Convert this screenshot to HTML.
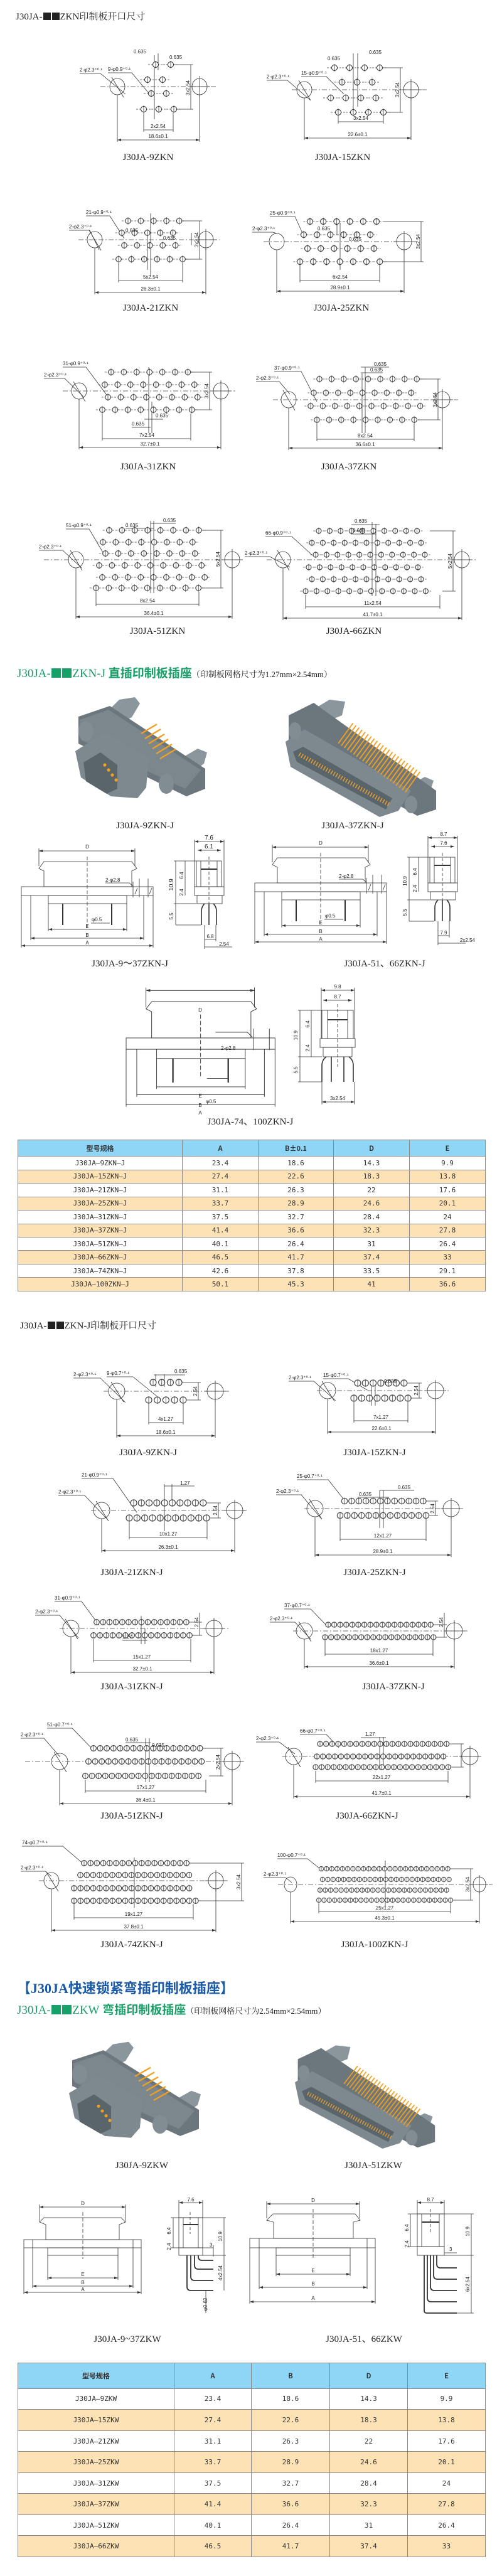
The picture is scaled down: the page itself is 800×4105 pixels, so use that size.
<!DOCTYPE html>
<html><head><meta charset="utf-8">
<style>
html,body{margin:0;padding:0;background:#fff}
#pg{position:relative;width:800px;height:4105px;overflow:hidden;background:#fff}
svg{position:absolute;left:0;top:0}
.h{position:absolute;white-space:nowrap;font-family:"Liberation Serif","Noto Serif CJK SC",serif;color:#222}
.g{color:#17a068;font-size:19px;font-family:"Liberation Serif","Noto Sans CJK SC",sans-serif;font-weight:bold}
.g b{font-weight:normal;font-family:"Liberation Serif",serif}
.sm{font-size:13px;color:#222;font-weight:normal;font-family:"Liberation Serif","Noto Serif CJK SC",serif}
.sq{display:inline-block;width:.8em;height:.8em;background:currentColor;margin:0 1px;vertical-align:-1px}
table{position:absolute;left:28px;width:745px;border-collapse:collapse;font-family:"DejaVu Sans Mono","Noto Sans CJK SC",monospace;font-size:11px;color:#333;table-layout:fixed}
td{border:1px solid #888;text-align:center;padding:0;letter-spacing:0}
tr.hd td{background:#8fd6f6;font-family:"Noto Sans CJK SC",sans-serif;font-weight:bold}
tr.o td{background:#fde2b6}
.l{stroke:#333;stroke-width:.8;fill:none}
.c{stroke:#444;stroke-width:.7;stroke-dasharray:8 3 2 3;fill:none}
.t{font-family:"Liberation Sans",sans-serif;font-size:8px;fill:#222}
.cap{font-family:"Liberation Serif",serif;font-size:15px;fill:#222;text-anchor:middle}
.m{text-anchor:middle}
</style></head><body><div id="pg">

<div class="h" style="left:25px;top:15px;font-size:15px">J30JA-<span class="sq"></span><span class="sq"></span>ZKN印制板开口尺寸</div>
<div class="h g" style="left:27px;top:1058px"><b>J30JA-</b><span class="sq"></span><span class="sq"></span><b>ZKN-J</b> 直插印制板插座<span class="sm">（印制板网格尺寸为1.27mm×2.54mm）</span></div>
<div class="h" style="left:32px;top:2101px;font-size:15px">J30JA-<span class="sq"></span><span class="sq"></span>ZKN-J印制板开口尺寸</div>
<div class="h" style="left:27px;top:3151px;font-size:22px;font-weight:bold;color:#1b5aa6;font-family:'Liberation Serif','Noto Sans CJK SC',sans-serif">【J30JA快速锁紧弯插印制板插座】</div>
<div class="h g" style="left:27px;top:3188px"><b>J30JA-</b><span class="sq"></span><span class="sq"></span><b>ZKW</b> 弯插印制板插座<span class="sm">（印制板网格尺寸为2.54mm×2.54mm）</span></div>

<table style="top:1816px;height:242px">
<colgroup><col style="width:262px"><col style="width:121px"><col style="width:120px"><col style="width:121px"><col style="width:121px"></colgroup>
<tr class="hd"><td>型号规格</td><td>A</td><td>B±0.1</td><td>D</td><td>E</td></tr>
<tr><td>J30JA—9ZKN—J</td><td>23.4</td><td>18.6</td><td>14.3</td><td>9.9</td></tr>
<tr class="o"><td>J30JA—15ZKN—J</td><td>27.4</td><td>22.6</td><td>18.3</td><td>13.8</td></tr>
<tr><td>J30JA—21ZKN—J</td><td>31.1</td><td>26.3</td><td>22</td><td>17.6</td></tr>
<tr class="o"><td>J30JA—25ZKN—J</td><td>33.7</td><td>28.9</td><td>24.6</td><td>20.1</td></tr>
<tr><td>J30JA—31ZKN—J</td><td>37.5</td><td>32.7</td><td>28.4</td><td>24</td></tr>
<tr class="o"><td>J30JA—37ZKN—J</td><td>41.4</td><td>36.6</td><td>32.3</td><td>27.8</td></tr>
<tr><td>J30JA—51ZKN—J</td><td>40.1</td><td>26.4</td><td>31</td><td>26.4</td></tr>
<tr class="o"><td>J30JA—66ZKN—J</td><td>46.5</td><td>41.7</td><td>37.4</td><td>33</td></tr>
<tr><td>J30JA—74ZKN—J</td><td>42.6</td><td>37.8</td><td>33.5</td><td>29.1</td></tr>
<tr class="o"><td>J30JA—100ZKN—J</td><td>50.1</td><td>45.3</td><td>41</td><td>36.6</td></tr>
</table>

<table style="top:3765px;height:310px">
<colgroup><col style="width:249px"><col style="width:123px"><col style="width:125px"><col style="width:124px"><col style="width:124px"></colgroup>
<tr class="hd"><td>型号规格</td><td>A</td><td>B</td><td>D</td><td>E</td></tr>
<tr><td>J30JA—9ZKW</td><td>23.4</td><td>18.6</td><td>14.3</td><td>9.9</td></tr>
<tr class="o"><td>J30JA—15ZKW</td><td>27.4</td><td>22.6</td><td>18.3</td><td>13.8</td></tr>
<tr><td>J30JA—21ZKW</td><td>31.1</td><td>26.3</td><td>22</td><td>17.6</td></tr>
<tr class="o"><td>J30JA—25ZKW</td><td>33.7</td><td>28.9</td><td>24.6</td><td>20.1</td></tr>
<tr><td>J30JA—31ZKW</td><td>37.5</td><td>32.7</td><td>28.4</td><td>24</td></tr>
<tr class="o"><td>J30JA—37ZKW</td><td>41.4</td><td>36.6</td><td>32.3</td><td>27.8</td></tr>
<tr><td>J30JA—51ZKW</td><td>40.1</td><td>26.4</td><td>31</td><td>26.4</td></tr>
<tr class="o"><td>J30JA—66ZKW</td><td>46.5</td><td>41.7</td><td>37.4</td><td>33</td></tr>
</table>

<svg width="800" height="4105" viewBox="0 0 800 4105">
<defs>
<pattern id="p24" width="24" height="24" patternUnits="userSpaceOnUse"><line x1="0" y1="12" x2="24" y2="12" stroke="#444" stroke-width=".7" stroke-dasharray="3 2"/><circle cx="12" cy="12" r="4.5" fill="#fff" stroke="#222" stroke-width="1"/><line x1="12" y1="6" x2="12" y2="18" stroke="#222" stroke-width=".7"/></pattern>
<pattern id="p21" width="21.2" height="21.2" patternUnits="userSpaceOnUse"><line x1="0" y1="10.6" x2="21.2" y2="10.6" stroke="#444" stroke-width=".7" stroke-dasharray="3 2"/><circle cx="10.6" cy="10.6" r="4.5" fill="#fff" stroke="#222" stroke-width="1"/><line x1="10.6" y1="4.6" x2="10.6" y2="16.6" stroke="#222" stroke-width=".7"/></pattern>
<pattern id="p20" width="20.4" height="20.4" patternUnits="userSpaceOnUse"><line x1="0" y1="10.2" x2="20.4" y2="10.2" stroke="#444" stroke-width=".7" stroke-dasharray="3 2"/><circle cx="10.2" cy="10.2" r="4.3" fill="#fff" stroke="#222" stroke-width="1"/><line x1="10.2" y1="4.4" x2="10.2" y2="16" stroke="#222" stroke-width=".7"/></pattern>
<pattern id="p19" width="19.4" height="19.4" patternUnits="userSpaceOnUse"><line x1="0" y1="9.7" x2="19.4" y2="9.7" stroke="#444" stroke-width=".7" stroke-dasharray="3 2"/><circle cx="9.7" cy="9.7" r="4.2" fill="#fff" stroke="#222" stroke-width="1"/><line x1="9.7" y1="4" x2="9.7" y2="15.4" stroke="#222" stroke-width=".7"/></pattern>
<pattern id="p17" width="17.4" height="17.4" patternUnits="userSpaceOnUse"><line x1="0" y1="8.7" x2="17.4" y2="8.7" stroke="#444" stroke-width=".7" stroke-dasharray="3 2"/><circle cx="8.7" cy="8.7" r="4" fill="#fff" stroke="#222" stroke-width="1"/><line x1="8.7" y1="3.4" x2="8.7" y2="14" stroke="#222" stroke-width=".7"/></pattern>
<pattern id="q137" width="13.7" height="13.7" patternUnits="userSpaceOnUse"><circle cx="6.85" cy="6.85" r="5" fill="#fff" stroke="#222" stroke-width="1"/><line x1="6.85" y1="1" x2="6.85" y2="12.7" stroke="#222" stroke-width=".7"/></pattern>
<pattern id="q123" width="12.3" height="12.3" patternUnits="userSpaceOnUse"><circle cx="6.15" cy="6.15" r="5" fill="#fff" stroke="#222" stroke-width="1"/><line x1="6.15" y1="0.5" x2="6.15" y2="11.8" stroke="#222" stroke-width=".7"/></pattern>
<pattern id="q114" width="11.4" height="11.4" patternUnits="userSpaceOnUse"><circle cx="5.7" cy="5.7" r="4.7" fill="#fff" stroke="#222" stroke-width="1"/><line x1="5.7" y1="0.5" x2="5.7" y2="10.9" stroke="#222" stroke-width=".7"/></pattern>
<pattern id="q106" width="10.6" height="10.6" patternUnits="userSpaceOnUse"><circle cx="5.3" cy="5.3" r="4.4" fill="#fff" stroke="#222" stroke-width="1"/><line x1="5.3" y1="0.5" x2="5.3" y2="10.1" stroke="#222" stroke-width=".7"/></pattern>
<pattern id="q102" width="10.2" height="10.2" patternUnits="userSpaceOnUse"><circle cx="5.1" cy="5.1" r="4.3" fill="#fff" stroke="#222" stroke-width="1"/><line x1="5.1" y1="0.4" x2="5.1" y2="9.8" stroke="#222" stroke-width=".7"/></pattern>
<pattern id="q96" width="9.6" height="9.6" patternUnits="userSpaceOnUse"><circle cx="4.8" cy="4.8" r="4.1" fill="#fff" stroke="#222" stroke-width="1"/><line x1="4.8" y1="0.3" x2="4.8" y2="9.3" stroke="#222" stroke-width=".7"/></pattern>
<pattern id="q84" width="8.4" height="8.4" patternUnits="userSpaceOnUse"><circle cx="4.2" cy="4.2" r="3.6" fill="#fff" stroke="#222" stroke-width=".9"/><line x1="4.2" y1="0.3" x2="4.2" y2="8.1" stroke="#222" stroke-width=".6"/></pattern>
<marker id="a" markerWidth="6" markerHeight="4" refX="6" refY="2" orient="auto-start-reverse" markerUnits="userSpaceOnUse"><path d="M0,0 L6,2 L0,4z" fill="#333"/></marker>

<!-- 3D connector small (9 pin) local 0..215 x 0..170 -->
<g id="c9">
<polygon points="55,28 75,8 100,4 108,14 95,36 70,48" fill="#8a959c"/>
<polygon points="176,100 200,86 215,92 210,110 190,124" fill="#8a959c"/>
<polygon points="10,35 60,18 212,118 212,150 182,162 10,78" fill="#6c767d"/>
<polygon points="12,40 58,24 205,120 180,150 14,72" fill="#7b868d"/>
<polygon points="5,90 52,60 122,100 118,148 104,165 62,162 14,132" fill="#7d888f"/>
<polygon points="18,108 45,92 72,112 72,150 55,158 22,138" fill="#5a646b"/>
<circle cx="58" cy="120" r="2.6" fill="#f0a020"/><circle cx="64" cy="128" r="2.6" fill="#f0a020"/><circle cx="70" cy="136" r="2.6" fill="#f0a020"/><circle cx="52" cy="112" r="2.6" fill="#f0a020"/>
<ellipse cx="22" cy="58" rx="12" ry="16" fill="#818c93"/>
<ellipse cx="150" cy="142" rx="12" ry="16" fill="#818c93"/>
<line x1="120" y1="100" x2="220" y2="0" stroke="#f0a020" stroke-width="34" stroke-dasharray="2.5 5" opacity="0" />
<g stroke="#f0a020" stroke-width="2.4"><line x1="110" y1="62" x2="135" y2="47"/><line x1="116" y1="70" x2="141" y2="55"/><line x1="122" y1="78" x2="147" y2="63"/><line x1="128" y1="86" x2="153" y2="71"/><line x1="134" y1="94" x2="159" y2="79"/><line x1="140" y1="102" x2="165" y2="87"/></g>
</g>
<!-- large connector -->
<g id="c37">
<polygon points="45,20 70,5 95,8 90,30 65,40" fill="#8a959c"/>
<polygon points="200,140 222,128 236,134 230,152 210,160" fill="#8a959c"/>
<polygon points="5,30 45,10 240,150 240,180 210,190 5,75" fill="#6c767d"/>
<polygon points="0,72 30,52 200,150 180,182 150,192 8,112" fill="#7d888f"/>
<polygon points="12,88 28,80 170,162 160,180 18,104" fill="#5a646b"/>
<line x1="22" y1="92" x2="165" y2="172" stroke="#e8a030" stroke-width="7" stroke-dasharray="1.5 3"/>
<ellipse cx="15" cy="55" rx="10" ry="14" fill="#818c93"/>
<ellipse cx="200" cy="172" rx="10" ry="14" fill="#818c93"/>
<line x1="95" y1="58" x2="205" y2="138" stroke="#f0a020" stroke-width="40" stroke-dasharray="2 4" opacity=".95"/>
</g>
</defs>

<!-- ===== ZKN cutouts ===== -->
<g class="l">
<!-- 9ZKN -->
<ellipse cx="187" cy="138" rx="12" ry="13"/><line x1="178" y1="123" x2="197" y2="155"/>
<ellipse cx="318" cy="138" rx="12" ry="13"/><line x1="301" y1="138" x2="335" y2="138"/><line x1="318" y1="121" x2="318" y2="155"/>
<line x1="187" y1="151" x2="187" y2="226"/><line x1="318" y1="151" x2="318" y2="226"/>
<line x1="187" y1="223" x2="318" y2="223" marker-start="url(#a)" marker-end="url(#a)"/>
<line x1="229" y1="180" x2="229" y2="210"/><line x1="276" y1="180" x2="276" y2="210"/><line x1="229" y1="207" x2="276" y2="207"/>
<line x1="275" y1="103" x2="308" y2="103"/><line x1="281" y1="174" x2="308" y2="174"/><line x1="304" y1="103" x2="304" y2="174"/>
<polyline points="127,117 160,117 200,150"/><polyline points="172,116 210,116 240,152"/>
<line x1="246" y1="88" x2="246" y2="190"/><line x1="252" y1="85" x2="252" y2="112"/>
<!-- 15ZKN -->
<ellipse cx="485" cy="143" rx="12" ry="13"/><line x1="476" y1="128" x2="495" y2="160"/>
<ellipse cx="655" cy="143" rx="12" ry="13"/><line x1="638" y1="143" x2="672" y2="143"/><line x1="655" y1="126" x2="655" y2="160"/>
<line x1="485" y1="156" x2="485" y2="223"/><line x1="655" y1="156" x2="655" y2="223"/>
<line x1="485" y1="220" x2="655" y2="220" marker-start="url(#a)" marker-end="url(#a)"/>
<line x1="539" y1="185" x2="539" y2="197"/><line x1="611" y1="185" x2="611" y2="197"/><line x1="539" y1="194" x2="611" y2="194"/>
<line x1="610" y1="108" x2="642" y2="108"/><line x1="616" y1="179" x2="642" y2="179"/><line x1="638" y1="108" x2="638" y2="179"/>
<polyline points="425,128 458,128 495,160"/><polyline points="480,122 520,122 548,150"/>
<line x1="563" y1="85" x2="563" y2="185"/><line x1="570" y1="85" x2="570" y2="170"/>
<!-- 21ZKN -->
<ellipse cx="151" cy="382" rx="12" ry="13"/><line x1="142" y1="367" x2="161" y2="399"/>
<ellipse cx="328" cy="382" rx="12" ry="13"/><line x1="311" y1="382" x2="345" y2="382"/><line x1="328" y1="365" x2="328" y2="399"/>
<line x1="151" y1="395" x2="151" y2="469"/><line x1="328" y1="395" x2="328" y2="469"/>
<line x1="151" y1="466" x2="328" y2="466" marker-start="url(#a)" marker-end="url(#a)"/>
<line x1="189" y1="419" x2="189" y2="450"/><line x1="291" y1="419" x2="291" y2="450"/><line x1="189" y1="447" x2="291" y2="447"/>
<line x1="291" y1="352" x2="322" y2="352"/><line x1="296" y1="413" x2="322" y2="413"/><line x1="318" y1="352" x2="318" y2="413"/><line x1="305" y1="371" x2="305" y2="391"/>
<polyline points="110,367 143,367 158,398"/><polyline points="137,344 175,344 198,380"/>
<line x1="240" y1="340" x2="240" y2="440"/><line x1="235" y1="370" x2="235" y2="430"/>
<!-- 25ZKN -->
<ellipse cx="441" cy="385" rx="12" ry="13"/>
<ellipse cx="644" cy="385" rx="12" ry="13"/><line x1="627" y1="385" x2="661" y2="385"/><line x1="644" y1="368" x2="644" y2="402"/>
<line x1="441" y1="398" x2="441" y2="467"/><line x1="644" y1="398" x2="644" y2="467"/>
<line x1="441" y1="464" x2="644" y2="464" marker-start="url(#a)" marker-end="url(#a)"/>
<line x1="478" y1="423" x2="478" y2="450"/><line x1="605" y1="423" x2="605" y2="450"/><line x1="478" y1="447" x2="605" y2="447"/>
<line x1="611" y1="353" x2="675" y2="353"/><line x1="611" y1="417" x2="675" y2="417"/><line x1="671" y1="353" x2="671" y2="417"/>
<polyline points="402,370 435,370 441,372"/><polyline points="430,345 470,345 485,378"/>
<line x1="542" y1="355" x2="542" y2="430"/><line x1="537" y1="355" x2="537" y2="375"/>
<!-- 31ZKN -->
<ellipse cx="126" cy="623" rx="12" ry="13"/><line x1="117" y1="608" x2="136" y2="640"/>
<ellipse cx="352" cy="623" rx="12" ry="13"/><line x1="335" y1="623" x2="369" y2="623"/><line x1="352" y1="606" x2="352" y2="640"/>
<line x1="126" y1="636" x2="126" y2="716"/><line x1="352" y1="636" x2="352" y2="716"/>
<line x1="126" y1="713" x2="352" y2="713" marker-start="url(#a)" marker-end="url(#a)"/>
<line x1="163" y1="659" x2="163" y2="702"/><line x1="304" y1="659" x2="304" y2="702"/><line x1="163" y1="699" x2="304" y2="699"/>
<line x1="304" y1="593" x2="338" y2="593"/><line x1="310" y1="653" x2="338" y2="653"/><line x1="334" y1="593" x2="334" y2="653"/>
<polyline points="70,603 103,603 133,632"/><polyline points="100,585 137,585 172,632"/>
<line x1="237" y1="585" x2="237" y2="690"/><line x1="242" y1="640" x2="242" y2="690"/><line x1="210" y1="681" x2="240" y2="681"/><line x1="230" y1="668" x2="260" y2="668"/>
<!-- 37ZKN -->
<ellipse cx="460" cy="637" rx="12" ry="13"/><line x1="451" y1="622" x2="470" y2="654"/>
<ellipse cx="705" cy="637" rx="12" ry="13"/><line x1="688" y1="637" x2="722" y2="637"/><line x1="705" y1="620" x2="705" y2="654"/>
<line x1="460" y1="650" x2="460" y2="717"/><line x1="705" y1="650" x2="705" y2="717"/>
<line x1="460" y1="714" x2="705" y2="714" marker-start="url(#a)" marker-end="url(#a)"/>
<line x1="505" y1="675" x2="505" y2="703"/><line x1="660" y1="675" x2="660" y2="703"/><line x1="505" y1="700" x2="660" y2="700"/>
<line x1="670" y1="604" x2="702" y2="604"/><line x1="666" y1="669" x2="702" y2="669"/><line x1="698" y1="604" x2="698" y2="669"/>
<polyline points="408,608 445,608 462,628"/><polyline points="437,592 480,592 505,640"/>
<line x1="582" y1="585" x2="582" y2="690"/><line x1="577" y1="595" x2="577" y2="690"/><line x1="575" y1="585" x2="620" y2="585"/><line x1="575" y1="594" x2="610" y2="594"/>
<!-- 51ZKN -->
<ellipse cx="121" cy="892" rx="12" ry="13"/><line x1="112" y1="877" x2="131" y2="909"/>
<ellipse cx="370" cy="892" rx="12" ry="13"/><line x1="353" y1="892" x2="387" y2="892"/><line x1="370" y1="875" x2="370" y2="909"/>
<line x1="121" y1="905" x2="121" y2="986"/><line x1="370" y1="905" x2="370" y2="986"/>
<line x1="121" y1="983" x2="370" y2="983" marker-start="url(#a)" marker-end="url(#a)"/>
<line x1="153" y1="943" x2="153" y2="966"/><line x1="317" y1="943" x2="317" y2="966"/><line x1="153" y1="963" x2="317" y2="963"/>
<line x1="323" y1="845" x2="356" y2="845"/><line x1="322" y1="937" x2="356" y2="937"/><line x1="352" y1="845" x2="352" y2="937"/>
<polyline points="62,877 100,877 130,905"/><polyline points="105,843 142,843 165,882"/>
<line x1="240" y1="830" x2="240" y2="945"/><line x1="245" y1="830" x2="245" y2="945"/><line x1="200" y1="842" x2="245" y2="842"/><line x1="240" y1="834" x2="280" y2="834"/>
<!-- 66ZKN -->
<ellipse cx="451" cy="892" rx="12" ry="13"/><line x1="442" y1="877" x2="461" y2="909"/>
<ellipse cx="736" cy="892" rx="12" ry="13"/><line x1="719" y1="892" x2="753" y2="892"/><line x1="736" y1="875" x2="736" y2="909"/>
<line x1="451" y1="905" x2="451" y2="988"/><line x1="736" y1="905" x2="736" y2="988"/>
<line x1="451" y1="985" x2="736" y2="985" marker-start="url(#a)" marker-end="url(#a)"/>
<line x1="487" y1="948" x2="487" y2="970"/><line x1="701" y1="948" x2="701" y2="970"/><line x1="487" y1="967" x2="701" y2="967"/>
<line x1="685" y1="846" x2="726" y2="846"/><line x1="705" y1="942" x2="726" y2="942"/><line x1="722" y1="846" x2="722" y2="942"/>
<polyline points="390,887 430,887 462,904"/><polyline points="423,855 465,855 498,885"/>
<line x1="593" y1="832" x2="593" y2="950"/><line x1="599" y1="835" x2="599" y2="950"/><line x1="560" y1="836" x2="605" y2="836"/><line x1="560" y1="851" x2="599" y2="851"/>
</g>
<g class="c">
<line x1="160" y1="138" x2="345" y2="138"/><line x1="465" y1="143" x2="680" y2="143"/>
<line x1="125" y1="382" x2="350" y2="382"/><line x1="420" y1="385" x2="665" y2="385"/>
<line x1="100" y1="623" x2="375" y2="623"/><line x1="435" y1="637" x2="730" y2="637"/>
<line x1="70" y1="892" x2="390" y2="892"/><line x1="425" y1="892" x2="760" y2="892"/>
</g>
<!-- pins ZKN -->
<rect transform="translate(236,91)" width="48" height="24" fill="url(#p24)"/>
<rect transform="translate(223,115)" width="48" height="24" fill="url(#p24)"/>
<rect transform="translate(229,137)" width="48" height="24" fill="url(#p24)"/>
<rect transform="translate(217,162)" width="72" height="24" fill="url(#p24)"/>
<rect transform="translate(521,96)" width="96" height="24" fill="url(#p24)"/>
<rect transform="translate(533,119)" width="72" height="24" fill="url(#p24)"/>
<rect transform="translate(515,144)" width="96" height="24" fill="url(#p24)"/>
<rect transform="translate(527,167)" width="96" height="24" fill="url(#p24)"/>
<rect transform="translate(193.8,341.8)" width="102" height="20.4" fill="url(#p20)"/>
<rect transform="translate(183.8,360.8)" width="102" height="20.4" fill="url(#p20)"/>
<rect transform="translate(187.8,380.8)" width="102" height="20.4" fill="url(#p20)"/>
<rect transform="translate(178.8,402.8)" width="122.4" height="20.4" fill="url(#p20)"/>
<rect transform="translate(483.4,342.4)" width="127.2" height="21.2" fill="url(#p21)"/>
<rect transform="translate(473.4,363.4)" width="127.2" height="21.2" fill="url(#p21)"/>
<rect transform="translate(479.4,385.4)" width="127.2" height="21.2" fill="url(#p21)"/>
<rect transform="translate(467.4,406.4)" width="148.4" height="21.2" fill="url(#p21)"/>
<rect transform="translate(166.8,582.8)" width="142.8" height="20.4" fill="url(#p20)"/>
<rect transform="translate(156.8,602.8)" width="163.2" height="20.4" fill="url(#p20)"/>
<rect transform="translate(161.8,622.8)" width="163.2" height="20.4" fill="url(#p20)"/>
<rect transform="translate(152.8,642.8)" width="163.2" height="20.4" fill="url(#p20)"/>
<rect transform="translate(499.3,594.3)" width="174.6" height="19.4" fill="url(#p19)"/>
<rect transform="translate(490.3,616.3)" width="174.6" height="19.4" fill="url(#p19)"/>
<rect transform="translate(485.3,637.3)" width="194" height="19.4" fill="url(#p19)"/>
<rect transform="translate(495.3,659.3)" width="174.6" height="19.4" fill="url(#p19)"/>
<rect transform="translate(163.8,834.8)" width="163.2" height="20.4" fill="url(#p20)"/>
<rect transform="translate(153.8,853.8)" width="163.2" height="20.4" fill="url(#p20)"/>
<rect transform="translate(157.8,871.8)" width="163.2" height="20.4" fill="url(#p20)"/>
<rect transform="translate(147.8,890.8)" width="183.6" height="20.4" fill="url(#p20)"/>
<rect transform="translate(152.8,909.8)" width="183.6" height="20.4" fill="url(#p20)"/>
<rect transform="translate(142.8,926.8)" width="183.6" height="20.4" fill="url(#p20)"/>
<rect transform="translate(499.3,837.3)" width="174" height="17.4" fill="url(#p17)"/>
<rect transform="translate(488.3,856.3)" width="191.4" height="17.4" fill="url(#p17)"/>
<rect transform="translate(494.3,875.3)" width="191.4" height="17.4" fill="url(#p17)"/>
<rect transform="translate(483.3,895.3)" width="191.4" height="17.4" fill="url(#p17)"/>
<rect transform="translate(488.3,914.3)" width="191.4" height="17.4" fill="url(#p17)"/>
<rect transform="translate(478.3,933.3)" width="208.8" height="17.4" fill="url(#p17)"/>
<!-- ZKN texts -->
<g class="t">
<text x="127" y="114">2-φ2.3⁺⁰·¹</text><text x="172" y="113">9-φ0.9⁺⁰·¹</text><text x="213" y="85">0.635</text><text x="270" y="94">0.635</text>
<text x="252" y="204" class="m">2x2.54</text><text x="252" y="220" class="m">18.6±0.1</text><text transform="translate(302,140) rotate(-90)" class="m">3x2.54</text>
<text x="425" y="125">2-φ2.3⁺⁰·¹</text><text x="480" y="119">15-φ0.9⁺⁰·¹</text><text x="522" y="96">0.635</text><text x="588" y="86">0.635</text>
<text x="575" y="191" class="m">3x2.54</text><text x="570" y="217" class="m">22.6±0.1</text><text transform="translate(636,143) rotate(-90)" class="m">3x2.54</text>
<text x="110" y="364">2-φ2.3⁺⁰·¹</text><text x="137" y="341">21-φ0.9⁺⁰·¹</text><text x="200" y="370">0.635</text><text x="260" y="382">0.635</text>
<text x="240" y="444" class="m">5x2.54</text><text x="240" y="463" class="m">26.3±0.1</text><text transform="translate(316,382) rotate(-90)" class="m">3x2.54</text>
<text x="402" y="367">2-φ2.3⁺⁰·¹</text><text x="430" y="342">25-φ0.9⁺⁰·¹</text><text x="506" y="367">0.635</text><text x="556" y="384">0.635</text>
<text x="542" y="444" class="m">6x2.54</text><text x="542" y="461" class="m">28.9±0.1</text><text transform="translate(669,385) rotate(-90)" class="m">3x2.54</text>
<text x="70" y="600">2-φ2.3⁺⁰·¹</text><text x="100" y="582">31-φ0.9⁺⁰·¹</text><text x="210" y="678">0.635</text><text x="248" y="665">0.635</text>
<text x="234" y="696" class="m">7x2.54</text><text x="239" y="710" class="m">32.7±0.1</text><text transform="translate(332,623) rotate(-90)" class="m">3x2.54</text>
<text x="408" y="605">2-φ2.3⁺⁰·¹</text><text x="437" y="589">37-φ0.9⁺⁰·¹</text><text x="596" y="583">0.635</text><text x="590" y="592">0.635</text>
<text x="582" y="697" class="m">8x2.54</text><text x="582" y="711" class="m">36.6±0.1</text><text transform="translate(696,637) rotate(-90)" class="m">3x2.54</text>
<text x="62" y="874">2-φ2.3⁺⁰·¹</text><text x="105" y="840">51-φ0.9⁺⁰·¹</text><text x="200" y="840">0.635</text><text x="260" y="832">0.635</text>
<text x="235" y="960" class="m">8x2.54</text><text x="245" y="980" class="m">36.4±0.1</text><text transform="translate(350,891) rotate(-90)" class="m">5x2.54</text>
<text x="390" y="884">2-φ2.3⁺⁰·¹</text><text x="423" y="852">66-φ0.9⁺⁰·¹</text><text x="565" y="833">0.635</text><text x="562" y="848">0.635</text>
<text x="594" y="964" class="m">11x2.54</text><text x="594" y="982" class="m">41.7±0.1</text><text transform="translate(720,894) rotate(-90)" class="m">5x2.54</text>
</g>
<g class="cap">
<text x="236" y="255">J30JA-9ZKN</text><text x="546" y="255">J30JA-15ZKN</text>
<text x="240" y="495">J30JA-21ZKN</text><text x="544" y="495">J30JA-25ZKN</text>
<text x="236" y="748">J30JA-31ZKN</text><text x="556" y="748">J30JA-37ZKN</text>
<text x="251" y="1010">J30JA-51ZKN</text><text x="564" y="1010">J30JA-66ZKN</text>
</g>

<!-- ===== ZKN-J connectors ===== -->
<use href="#c9" transform="translate(115,1107)"/>
<use href="#c37" transform="translate(455,1110)"/>
<g class="cap"><text x="231" y="1320">J30JA-9ZKN-J</text><text x="562" y="1320">J30JA-37ZKN-J</text></g>

<!-- front/side views ZKN-J -->
<g id="fj" class="l">
<line x1="62" y1="1356" x2="215" y2="1356" marker-start="url(#a)" marker-end="url(#a)"/>
<line x1="62" y1="1352" x2="62" y2="1380"/><line x1="215" y1="1352" x2="215" y2="1380"/>
<polygon points="70,1413 70,1388 62,1384 70,1373 210,1373 218,1384 210,1388 210,1413"/>
<rect x="34" y="1413" width="210" height="14"/>
<rect x="77" y="1427" width="125" height="13"/>
<line x1="100" y1="1440" x2="100" y2="1474" stroke-width="2"/><line x1="178" y1="1440" x2="178" y2="1474" stroke-width="2"/>
<line x1="139" y1="1365" x2="139" y2="1480" stroke-dasharray="6 3"/>
<line x1="212" y1="1405" x2="212" y2="1430"/><line x1="222" y1="1400" x2="222" y2="1430"/><line x1="236" y1="1400" x2="236" y2="1430"/>
<line x1="215" y1="1425" x2="219" y2="1415"/><line x1="238" y1="1425" x2="242" y2="1415"/>
<polyline points="168,1407 206,1407 212,1412"/>
<polyline points="145,1471 175,1471"/>
<line x1="77" y1="1440" x2="77" y2="1484"/><line x1="202" y1="1440" x2="202" y2="1484"/><line x1="77" y1="1481" x2="202" y2="1481" marker-start="url(#a)" marker-end="url(#a)"/>
<line x1="49" y1="1427" x2="49" y2="1498"/><line x1="229" y1="1427" x2="229" y2="1498"/><line x1="49" y1="1495" x2="229" y2="1495" marker-start="url(#a)" marker-end="url(#a)"/>
<line x1="34" y1="1427" x2="34" y2="1510"/><line x1="244" y1="1427" x2="244" y2="1510"/><line x1="34" y1="1507" x2="244" y2="1507" marker-start="url(#a)" marker-end="url(#a)"/>
<!-- side -->
<rect x="313" y="1372" width="40" height="41"/><line x1="320" y1="1372" x2="320" y2="1413"/><line x1="346" y1="1372" x2="346" y2="1413"/>
<line x1="320" y1="1385" x2="346" y2="1385" stroke-width="2"/><line x1="333" y1="1365" x2="333" y2="1445" stroke-dasharray="5 3"/>
<rect x="310" y="1413" width="47" height="14"/><rect x="314" y="1427" width="40" height="13"/>
<path d="M326,1440 q-5,5 -5,12 v22 M333,1440 v34 M340,1440 q5,5 5,12 v22" stroke-width="1.6"/>
<line x1="310" y1="1341" x2="357" y2="1341" marker-start="url(#a)" marker-end="url(#a)"/><line x1="310" y1="1338" x2="310" y2="1413"/><line x1="357" y1="1338" x2="357" y2="1413"/>
<line x1="315" y1="1355" x2="352" y2="1355" marker-start="url(#a)" marker-end="url(#a)"/>
<line x1="277" y1="1372" x2="313" y2="1372"/><line x1="277" y1="1440" x2="313" y2="1440"/><line x1="280" y1="1474" x2="320" y2="1474"/>
<line x1="280" y1="1372" x2="280" y2="1440"/><line x1="295" y1="1372" x2="295" y2="1413"/><line x1="295" y1="1413" x2="295" y2="1427"/><line x1="280" y1="1440" x2="280" y2="1474"/>
<line x1="326" y1="1474" x2="326" y2="1512"/><line x1="344" y1="1474" x2="344" y2="1500"/><line x1="326" y1="1497" x2="344" y2="1497"/><line x1="326" y1="1509" x2="370" y2="1509"/>
</g>
<use href="#fj" transform="translate(372,-6)"/>
<g class="t" font-size="10">
<text x="139" y="1352" class="m">D</text><text x="168" y="1405">2-φ2.8</text><text x="146" y="1468">φ0.5</text>
<text x="139" y="1479" class="m">E</text><text x="139" y="1493" class="m">B</text><text x="139" y="1505" class="m">A</text>
<text x="333" y="1338" class="m" font-size="10">7.6</text><text x="333" y="1352" class="m" font-size="10">6.1</text>
<text transform="translate(276,1410) rotate(-90)" class="m" font-size="10">10.9</text><text transform="translate(292,1395) rotate(-90)" class="m">6.4</text><text transform="translate(292,1422) rotate(-90)" class="m">2.4</text><text transform="translate(276,1460) rotate(-90)" class="m">5.5</text>
<text x="335" y="1495" class="m">6.8</text><text x="357" y="1507" class="m">2.54</text>
<text x="511" y="1346" class="m">D</text><text x="540" y="1399">2-φ2.8</text><text x="518" y="1462">φ0.5</text>
<text x="511" y="1473" class="m">E</text><text x="511" y="1487" class="m">B</text><text x="511" y="1499" class="m">A</text>
<text x="707" y="1332" class="m">8.7</text><text x="707" y="1346" class="m">7.6</text>
<text x="707" y="1489" class="m">7.9</text><text x="745" y="1501" class="m">2x2.54</text>
<text transform="translate(648,1404) rotate(-90)" class="m">10.9</text><text transform="translate(664,1389) rotate(-90)" class="m">6.4</text><text transform="translate(664,1416) rotate(-90)" class="m">2.4</text><text transform="translate(648,1454) rotate(-90)" class="m">5.5</text>
</g>
<!-- 74/100 -->
<g transform="translate(201,1654) scale(1.13) translate(-34,-1413)">
<g class="l">
<line x1="62" y1="1346" x2="215" y2="1346" marker-start="url(#a)" marker-end="url(#a)"/>
<line x1="62" y1="1342" x2="62" y2="1370"/><line x1="215" y1="1342" x2="215" y2="1370"/>
<polygon points="70,1413 70,1376 62,1372 70,1362 210,1362 218,1372 210,1376 210,1413"/>
<rect x="34" y="1413" width="210" height="16"/><rect x="77" y="1429" width="125" height="13"/>
<line x1="100" y1="1442" x2="100" y2="1476" stroke-width="2"/><line x1="178" y1="1442" x2="178" y2="1476" stroke-width="2"/>
<line x1="139" y1="1380" x2="139" y2="1470" stroke-dasharray="6 3"/>
<line x1="214" y1="1400" x2="214" y2="1430"/><line x1="236" y1="1400" x2="236" y2="1430"/>
<polyline points="160,1405 205,1405 212,1412"/><polyline points="148,1470 178,1470"/>
<line x1="77" y1="1442" x2="77" y2="1485"/><line x1="202" y1="1442" x2="202" y2="1485"/><line x1="77" y1="1482" x2="202" y2="1482"/>
<line x1="49" y1="1429" x2="49" y2="1496"/><line x1="229" y1="1429" x2="229" y2="1496"/><line x1="49" y1="1493" x2="229" y2="1493"/>
<line x1="34" y1="1429" x2="34" y2="1510"/><line x1="244" y1="1429" x2="244" y2="1510"/><line x1="34" y1="1507" x2="244" y2="1507"/>
</g></g>
<g class="l">
<rect x="513" y="1610" width="50" height="45"/><line x1="522" y1="1610" x2="522" y2="1655"/><line x1="554" y1="1610" x2="554" y2="1655"/><line x1="522" y1="1625" x2="554" y2="1625" stroke-width="2"/>
<line x1="538" y1="1600" x2="538" y2="1700" stroke-dasharray="5 3"/>
<rect x="510" y="1655" width="56" height="14"/><rect x="515" y="1669" width="46" height="15"/>
<path d="M520,1684 q-7,5 -7,14 v26 M528,1684 v40 M548,1684 v40 M556,1684 q7,5 7,14 v26" stroke-width="1.6"/>
<line x1="512" y1="1578" x2="565" y2="1578" marker-start="url(#a)" marker-end="url(#a)"/><line x1="512" y1="1574" x2="512" y2="1655"/><line x1="565" y1="1574" x2="565" y2="1655"/>
<line x1="515" y1="1594" x2="561" y2="1594" marker-start="url(#a)" marker-end="url(#a)"/>
<line x1="475" y1="1610" x2="513" y2="1610"/><line x1="475" y1="1684" x2="513" y2="1684"/><line x1="475" y1="1724" x2="513" y2="1724"/>
<line x1="478" y1="1610" x2="478" y2="1724"/><line x1="496" y1="1610" x2="496" y2="1684"/>
<line x1="513" y1="1724" x2="513" y2="1760"/><line x1="565" y1="1724" x2="565" y2="1760"/><line x1="513" y1="1756" x2="565" y2="1756" marker-start="url(#a)" marker-end="url(#a)"/>
</g>
<g class="t" font-size="11">
<text x="319" y="1612" class="m">D</text><text x="352" y="1673">2-φ2.8</text><text x="328" y="1758">φ0.5</text>
<text x="319" y="1749" class="m">E</text><text x="319" y="1764" class="m">B</text><text x="319" y="1776" class="m">A</text>
<text x="538" y="1575" class="m">9.8</text><text x="538" y="1591" class="m">8.7</text><text x="538" y="1753" class="m">3x2.54</text>
<text transform="translate(474,1650) rotate(-90)" class="m">10.9</text><text transform="translate(493,1632) rotate(-90)" class="m">6.4</text><text transform="translate(493,1670) rotate(-90)" class="m">2.4</text><text transform="translate(474,1705) rotate(-90)" class="m">5.5</text>
</g>
<g class="cap">
<text x="207" y="1540">J30JA-9～37ZKN-J</text><text x="613" y="1540">J30JA-51、66ZKN-J</text><text x="399" y="1792">J30JA-74、100ZKN-J</text>
</g>

<!-- ===== ZKN-J cutouts ===== -->
<g class="l">
<!-- generic holes & dims -->
<ellipse cx="186" cy="2217" rx="13" ry="13"/><line x1="177" y1="2202" x2="197" y2="2234"/><ellipse cx="343" cy="2217" rx="13" ry="13"/><line x1="326" y1="2217" x2="360" y2="2217"/><line x1="343" y1="2200" x2="343" y2="2234"/>
<line x1="186" y1="2230" x2="186" y2="2291"/><line x1="343" y1="2230" x2="343" y2="2291"/><line x1="186" y1="2288" x2="343" y2="2288" marker-start="url(#a)" marker-end="url(#a)"/>
<line x1="237" y1="2237" x2="237" y2="2270"/><line x1="292" y1="2237" x2="292" y2="2270"/><line x1="237" y1="2267" x2="292" y2="2267"/>
<line x1="290" y1="2203" x2="320" y2="2203"/><line x1="297" y1="2231" x2="320" y2="2231"/><line x1="316" y1="2203" x2="316" y2="2231"/>
<polyline points="117,2196 160,2196 200,2235"/><polyline points="170,2194 212,2194 250,2225"/><line x1="248" y1="2190" x2="248" y2="2210"/><line x1="262" y1="2190" x2="262" y2="2210"/><line x1="245" y1="2191" x2="295" y2="2191"/>

<ellipse cx="522" cy="2216" rx="13" ry="13"/><line x1="513" y1="2201" x2="533" y2="2233"/><ellipse cx="694" cy="2216" rx="13" ry="13"/><line x1="677" y1="2216" x2="711" y2="2216"/><line x1="694" y1="2199" x2="694" y2="2233"/>
<line x1="522" y1="2229" x2="522" y2="2285"/><line x1="694" y1="2229" x2="694" y2="2285"/><line x1="522" y1="2282" x2="694" y2="2282" marker-start="url(#a)" marker-end="url(#a)"/>
<line x1="564" y1="2234" x2="564" y2="2267"/><line x1="650" y1="2234" x2="650" y2="2267"/><line x1="564" y1="2264" x2="650" y2="2264"/>
<line x1="648" y1="2204" x2="672" y2="2204"/><line x1="655" y1="2228" x2="672" y2="2228"/><line x1="668" y1="2204" x2="668" y2="2228"/>
<polyline points="460,2201 500,2201 535,2232"/><polyline points="515,2197 555,2197 585,2215"/><line x1="592" y1="2200" x2="592" y2="2240"/><line x1="598" y1="2200" x2="598" y2="2240"/>

<ellipse cx="162" cy="2407" rx="13" ry="13"/><line x1="153" y1="2392" x2="173" y2="2424"/><ellipse cx="374" cy="2407" rx="13" ry="13"/><line x1="357" y1="2407" x2="391" y2="2407"/><line x1="374" y1="2390" x2="374" y2="2424"/>
<line x1="162" y1="2420" x2="162" y2="2474"/><line x1="374" y1="2420" x2="374" y2="2474"/><line x1="162" y1="2471" x2="374" y2="2471" marker-start="url(#a)" marker-end="url(#a)"/>
<line x1="206" y1="2425" x2="206" y2="2453"/><line x1="330" y1="2425" x2="330" y2="2453"/><line x1="206" y1="2450" x2="330" y2="2450"/>
<line x1="328" y1="2395" x2="352" y2="2395"/><line x1="335" y1="2419" x2="352" y2="2419"/><line x1="348" y1="2395" x2="348" y2="2419"/>
<polyline points="93,2383 135,2383 170,2420"/><polyline points="130,2356 180,2356 218,2410"/><line x1="262" y1="2365" x2="262" y2="2440"/><line x1="274" y1="2365" x2="274" y2="2400"/><line x1="262" y1="2368" x2="310" y2="2368"/>

<ellipse cx="502" cy="2404" rx="13" ry="13"/><line x1="493" y1="2389" x2="513" y2="2421"/><ellipse cx="719" cy="2404" rx="13" ry="13"/><line x1="702" y1="2404" x2="736" y2="2404"/><line x1="719" y1="2387" x2="719" y2="2421"/>
<line x1="502" y1="2417" x2="502" y2="2481"/><line x1="719" y1="2417" x2="719" y2="2481"/><line x1="502" y1="2478" x2="719" y2="2478" marker-start="url(#a)" marker-end="url(#a)"/>
<line x1="542" y1="2421" x2="542" y2="2456"/><line x1="679" y1="2421" x2="679" y2="2456"/><line x1="542" y1="2453" x2="679" y2="2453"/>
<line x1="674" y1="2392" x2="698" y2="2392"/><line x1="684" y1="2415" x2="698" y2="2415"/><line x1="694" y1="2392" x2="694" y2="2415"/>
<polyline points="440,2382 480,2382 512,2420"/><polyline points="473,2358 523,2358 550,2392"/><line x1="605" y1="2375" x2="605" y2="2435"/><line x1="611" y1="2375" x2="611" y2="2435"/><line x1="570" y1="2386" x2="620" y2="2386"/><line x1="605" y1="2375" x2="660" y2="2375"/>

<ellipse cx="113" cy="2595" rx="13" ry="13"/><line x1="104" y1="2580" x2="124" y2="2612"/><ellipse cx="341" cy="2595" rx="13" ry="13"/><line x1="324" y1="2595" x2="358" y2="2595"/><line x1="341" y1="2578" x2="341" y2="2612"/>
<line x1="113" y1="2608" x2="113" y2="2668"/><line x1="341" y1="2608" x2="341" y2="2668"/><line x1="113" y1="2665" x2="341" y2="2665" marker-start="url(#a)" marker-end="url(#a)"/>
<line x1="149" y1="2612" x2="149" y2="2649"/><line x1="304" y1="2612" x2="304" y2="2649"/><line x1="149" y1="2646" x2="304" y2="2646"/>
<line x1="300" y1="2585" x2="322" y2="2585"/><line x1="306" y1="2606" x2="322" y2="2606"/><line x1="318" y1="2570" x2="318" y2="2606"/>
<polyline points="56,2574 95,2574 125,2610"/><polyline points="87,2552 130,2552 158,2590"/><line x1="225" y1="2575" x2="225" y2="2620"/><line x1="231" y1="2595" x2="231" y2="2620"/><line x1="195" y1="2614" x2="235" y2="2614"/>

<ellipse cx="485" cy="2599" rx="13" ry="13"/><line x1="476" y1="2584" x2="496" y2="2616"/><ellipse cx="724" cy="2599" rx="13" ry="13"/><line x1="707" y1="2599" x2="741" y2="2599"/><line x1="724" y1="2582" x2="724" y2="2616"/>
<line x1="485" y1="2612" x2="485" y2="2659"/><line x1="724" y1="2612" x2="724" y2="2659"/><line x1="485" y1="2656" x2="724" y2="2656" marker-start="url(#a)" marker-end="url(#a)"/>
<line x1="518" y1="2614" x2="518" y2="2639"/><line x1="690" y1="2614" x2="690" y2="2639"/><line x1="518" y1="2636" x2="690" y2="2636"/>
<line x1="690" y1="2589" x2="712" y2="2589"/><line x1="695" y1="2609" x2="712" y2="2609"/><line x1="708" y1="2570" x2="708" y2="2609"/>
<polyline points="430,2585 470,2585 495,2612"/><polyline points="453,2564 495,2564 522,2592"/>

<ellipse cx="95" cy="2807" rx="13" ry="13"/><line x1="86" y1="2792" x2="106" y2="2824"/><ellipse cx="370" cy="2807" rx="13" ry="13"/><line x1="353" y1="2807" x2="387" y2="2807"/><line x1="370" y1="2790" x2="370" y2="2824"/>
<line x1="95" y1="2820" x2="95" y2="2877"/><line x1="370" y1="2820" x2="370" y2="2877"/><line x1="95" y1="2874" x2="370" y2="2874" marker-start="url(#a)" marker-end="url(#a)"/>
<line x1="136" y1="2836" x2="136" y2="2857"/><line x1="328" y1="2836" x2="328" y2="2857"/><line x1="136" y1="2854" x2="328" y2="2854"/>
<line x1="318" y1="2786" x2="356" y2="2786"/><line x1="333" y1="2830" x2="356" y2="2830"/><line x1="352" y1="2786" x2="352" y2="2830"/>
<polyline points="33,2770 70,2770 96,2800"/><polyline points="75,2754 115,2754 150,2790"/><line x1="232" y1="2770" x2="232" y2="2840"/><line x1="238" y1="2770" x2="238" y2="2840"/><line x1="200" y1="2777" x2="240" y2="2777"/><line x1="218" y1="2786" x2="265" y2="2786"/>

<ellipse cx="468" cy="2799" rx="13" ry="13"/><line x1="459" y1="2784" x2="479" y2="2816"/><ellipse cx="749" cy="2799" rx="13" ry="13"/><line x1="732" y1="2799" x2="766" y2="2799"/><line x1="749" y1="2782" x2="749" y2="2816"/>
<line x1="468" y1="2812" x2="468" y2="2866"/><line x1="749" y1="2812" x2="749" y2="2866"/><line x1="468" y1="2863" x2="749" y2="2863" marker-start="url(#a)" marker-end="url(#a)"/>
<line x1="503" y1="2822" x2="503" y2="2841"/><line x1="714" y1="2822" x2="714" y2="2841"/><line x1="503" y1="2838" x2="714" y2="2838"/>
<line x1="707" y1="2779" x2="739" y2="2779"/><line x1="714" y1="2816" x2="739" y2="2816"/><line x1="735" y1="2779" x2="735" y2="2816"/>
<polyline points="408,2776 445,2776 470,2795"/><polyline points="478,2764 520,2764 540,2785"/><line x1="605" y1="2768" x2="605" y2="2820"/><line x1="611" y1="2768" x2="611" y2="2820"/><line x1="575" y1="2769" x2="615" y2="2769"/>

<ellipse cx="82" cy="2997" rx="12" ry="13"/><line x1="73" y1="2982" x2="93" y2="3014"/><ellipse cx="344" cy="2997" rx="12" ry="13"/><line x1="327" y1="2997" x2="361" y2="2997"/><line x1="344" y1="2980" x2="344" y2="3014"/>
<line x1="82" y1="3010" x2="82" y2="3079"/><line x1="344" y1="3010" x2="344" y2="3079"/><line x1="82" y1="3076" x2="344" y2="3076" marker-start="url(#a)" marker-end="url(#a)"/>
<line x1="118" y1="3034" x2="118" y2="3059"/><line x1="308" y1="3034" x2="308" y2="3059"/><line x1="118" y1="3056" x2="308" y2="3056"/>
<line x1="292" y1="2969" x2="389" y2="2969"/><line x1="310" y1="3029" x2="389" y2="3029"/><line x1="385" y1="2969" x2="385" y2="3029"/>
<polyline points="33,2982 72,2982 82,2990"/><polyline points="35,2942 100,2942 135,2972"/><line x1="214" y1="2960" x2="214" y2="3040"/>

<ellipse cx="463" cy="3003" rx="10" ry="12"/><ellipse cx="764" cy="3003" rx="10" ry="12"/><line x1="750" y1="3003" x2="778" y2="3003"/><line x1="764" y1="2988" x2="764" y2="3018"/>
<line x1="463" y1="3015" x2="463" y2="3065"/><line x1="764" y1="3015" x2="764" y2="3065"/><line x1="463" y1="3062" x2="764" y2="3062" marker-start="url(#a)" marker-end="url(#a)"/>
<line x1="508" y1="3033" x2="508" y2="3049"/><line x1="718" y1="3033" x2="718" y2="3049"/><line x1="508" y1="3046" x2="718" y2="3046"/>
<line x1="714" y1="2978" x2="754" y2="2978"/><line x1="718" y1="3028" x2="754" y2="3028"/><line x1="750" y1="2978" x2="750" y2="3028"/>
<polyline points="420,2992 455,2992 465,3000"/><polyline points="442,2962 490,2962 515,2982"/><line x1="614" y1="2965" x2="614" y2="3040"/>
</g>
<g class="c">
<line x1="165" y1="2217" x2="365" y2="2217"/><line x1="505" y1="2216" x2="715" y2="2216"/>
<line x1="145" y1="2407" x2="395" y2="2407"/><line x1="485" y1="2404" x2="740" y2="2404"/>
<line x1="95" y1="2595" x2="365" y2="2595"/><line x1="467" y1="2599" x2="745" y2="2599"/>
<line x1="40" y1="2807" x2="390" y2="2807"/><line x1="450" y1="2799" x2="770" y2="2799"/>
<line x1="62" y1="2997" x2="365" y2="2997"/><line x1="443" y1="3003" x2="785" y2="3003"/>
</g>
<rect transform="translate(237.15,2196.15)" width="54.8" height="13.7" fill="url(#q137)"/>
<rect transform="translate(230.15,2224.15)" width="68.5" height="13.7" fill="url(#q137)"/>
<rect transform="translate(563.85,2197.85)" width="86.1" height="12.3" fill="url(#q123)"/>
<rect transform="translate(557.85,2221.85)" width="98.4" height="12.3" fill="url(#q123)"/>
<rect transform="translate(206.85,2388.85)" width="123" height="12.3" fill="url(#q123)"/>
<rect transform="translate(199.85,2412.85)" width="135.3" height="12.3" fill="url(#q123)"/>
<rect transform="translate(543.3,2386.3)" width="136.8" height="11.4" fill="url(#q114)"/>
<rect transform="translate(536.3,2409.3)" width="148.2" height="11.4" fill="url(#q114)"/>
<rect transform="translate(148.9,2579.9)" width="153" height="10.2" fill="url(#q102)"/>
<rect transform="translate(143.9,2600.9)" width="163.2" height="10.2" fill="url(#q102)"/>
<rect transform="translate(518.2,2584.2)" width="172.8" height="9.6" fill="url(#q96)"/>
<rect transform="translate(513.2,2604.2)" width="182.4" height="9.6" fill="url(#q96)"/>
<rect transform="translate(143.7,2780.7)" width="180.2" height="10.6" fill="url(#q106)"/>
<rect transform="translate(135.7,2801.7)" width="190.8" height="10.6" fill="url(#q106)"/>
<rect transform="translate(130.7,2824.7)" width="190.8" height="10.6" fill="url(#q106)"/>
<rect transform="translate(505.2,2774.2)" width="211.2" height="9.6" fill="url(#q96)"/>
<rect transform="translate(500.2,2794.2)" width="211.2" height="9.6" fill="url(#q96)"/>
<rect transform="translate(498.2,2811.2)" width="220.8" height="9.6" fill="url(#q96)"/>
<rect transform="translate(128.9,2963.9)" width="173.4" height="10.2" fill="url(#q102)"/>
<rect transform="translate(122.9,2982.9)" width="183.6" height="10.2" fill="url(#q102)"/>
<rect transform="translate(112.9,3003.9)" width="193.8" height="10.2" fill="url(#q102)"/>
<rect transform="translate(112.9,3023.9)" width="204" height="10.2" fill="url(#q102)"/>
<rect transform="translate(507.8,2973.8)" width="210" height="8.4" fill="url(#q84)"/>
<rect transform="translate(509.8,2990.8)" width="210" height="8.4" fill="url(#q84)"/>
<rect transform="translate(505.8,3007.8)" width="210" height="8.4" fill="url(#q84)"/>
<rect transform="translate(503.8,3023.8)" width="218.4" height="8.4" fill="url(#q84)"/>
<g class="t">
<text x="117" y="2193">2-φ2.3⁺⁰·¹</text><text x="170" y="2191">9-φ0.7⁺⁰·¹</text><text x="278" y="2188">0.635</text>
<text x="264" y="2264" class="m">4x1.27</text><text x="264" y="2285" class="m">18.6±0.1</text><text transform="translate(314,2217) rotate(-90)" class="m">2.54</text>
<text x="460" y="2198">2-φ2.3⁺⁰·¹</text><text x="515" y="2194">15-φ0.7⁺⁰·¹</text><text x="612" y="2204">0.635</text>
<text x="607" y="2261" class="m">7x1.27</text><text x="608" y="2279" class="m">22.6±0.1</text><text transform="translate(666,2216) rotate(-90)" class="m">2.54</text>
<text x="93" y="2380">2-φ2.3⁺⁰·¹</text><text x="130" y="2353">21-φ0.9⁺⁰·¹</text><text x="287" y="2366">1.27</text>
<text x="268" y="2447" class="m">10x1.27</text><text x="268" y="2468" class="m">26.3±0.1</text><text transform="translate(346,2407) rotate(-90)" class="m">2.54</text>
<text x="440" y="2379">2-φ2.3⁺⁰·¹</text><text x="473" y="2355">25-φ0.7⁺⁰·¹</text><text x="572" y="2384">0.635</text><text x="634" y="2373">0.635</text>
<text x="610" y="2450" class="m">12x1.27</text><text x="610" y="2475" class="m">28.9±0.1</text><text transform="translate(692,2404) rotate(-90)" class="m">2.54</text>
<text x="56" y="2571">2-φ2.3⁺⁰·¹</text><text x="87" y="2549">31-φ0.9⁺⁰·¹</text><text x="195" y="2611">1.27</text>
<text x="226" y="2643" class="m">15x1.27</text><text x="227" y="2662" class="m">32.7±0.1</text><text transform="translate(316,2585) rotate(-90)" class="m">2.54</text>
<text x="430" y="2582">2-φ2.3⁺⁰·¹</text><text x="453" y="2561">37-φ0.7⁺⁰·¹</text>
<text x="604" y="2633" class="m">18x1.27</text><text x="604" y="2653" class="m">36.6±0.1</text><text transform="translate(706,2585) rotate(-90)" class="m">2.54</text>
<text x="33" y="2767">2-φ2.3⁺⁰·¹</text><text x="75" y="2751">51-φ0.7⁺⁰·¹</text><text x="200" y="2775">0.635</text><text x="242" y="2784">0.635</text>
<text x="232" y="2851" class="m">17x1.27</text><text x="232" y="2871" class="m">36.4±0.1</text><text transform="translate(350,2808) rotate(-90)" class="m">2x2.54</text>
<text x="408" y="2773">2-φ2.3⁺⁰·¹</text><text x="478" y="2761">66-φ0.7⁺⁰·¹</text><text x="582" y="2766">1.27</text>
<text x="608" y="2835" class="m">22x1.27</text><text x="608" y="2860" class="m">41.7±0.1</text>
<text x="33" y="2979">2-φ2.3⁺⁰·¹</text><text x="35" y="2939">74-φ0.7⁺⁰·¹</text>
<text x="213" y="3053" class="m">19x1.27</text><text x="213" y="3073" class="m">37.8±0.1</text><text transform="translate(383,2999) rotate(-90)" class="m">3x2.54</text>
<text x="420" y="2989">2-φ2.3⁺⁰·¹</text><text x="442" y="2959">100-φ0.7⁺⁰·¹</text>
<text x="613" y="3043" class="m">25x1.27</text><text x="613" y="3059" class="m">45.3±0.1</text><text transform="translate(748,3003) rotate(-90)" class="m">3x2.54</text>
</g>
<g class="cap">
<text x="236" y="2319">J30JA-9ZKN-J</text><text x="597" y="2319">J30JA-15ZKN-J</text>
<text x="210" y="2510">J30JA-21ZKN-J</text><text x="597" y="2510">J30JA-25ZKN-J</text>
<text x="210" y="2692">J30JA-31ZKN-J</text><text x="627" y="2692">J30JA-37ZKN-J</text>
<text x="210" y="2898">J30JA-51ZKN-J</text><text x="585" y="2898">J30JA-66ZKN-J</text>
<text x="210" y="3103">J30JA-74ZKN-J</text><text x="597" y="3103">J30JA-100ZKN-J</text>
</g>

<!-- ===== ZKW ===== -->
<use href="#c9" transform="translate(105,3250) scale(1,0.95)"/>
<use href="#c37" transform="translate(470,3255) scale(0.93,0.88)"/>
<g class="cap"><text x="226" y="3455">J30JA-9ZKW</text><text x="595" y="3455">J30JA-51ZKW</text></g>
<g class="l">
<line x1="63" y1="3517" x2="200" y2="3517" marker-start="url(#a)" marker-end="url(#a)"/><line x1="63" y1="3513" x2="63" y2="3540"/><line x1="200" y1="3513" x2="200" y2="3540"/>
<polygon points="73,3569 73,3545 63,3541 70,3534 193,3534 200,3541 190,3545 190,3569"/>
<rect x="38" y="3569" width="187" height="13"/><rect x="76" y="3582" width="112" height="12"/>
<line x1="132" y1="3525" x2="132" y2="3600" stroke-dasharray="6 3"/>
<line x1="52" y1="3569" x2="52" y2="3646"/><line x1="212" y1="3569" x2="212" y2="3646"/>
<line x1="76" y1="3594" x2="76" y2="3633"/><line x1="188" y1="3594" x2="188" y2="3633"/>
<line x1="76" y1="3630" x2="188" y2="3630" marker-start="url(#a)" marker-end="url(#a)"/>
<line x1="52" y1="3643" x2="212" y2="3643" marker-start="url(#a)" marker-end="url(#a)"/>
<line x1="38" y1="3582" x2="38" y2="3656"/><line x1="225" y1="3582" x2="225" y2="3656"/><line x1="38" y1="3653" x2="225" y2="3653" marker-start="url(#a)" marker-end="url(#a)"/>
<rect x="285" y="3534" width="38" height="48"/><line x1="292" y1="3534" x2="292" y2="3582"/><line x1="316" y1="3534" x2="316" y2="3582"/><line x1="292" y1="3545" x2="316" y2="3545" stroke-width="2"/>
<rect x="285" y="3582" width="38" height="12"/><rect x="300" y="3582" width="38" height="12" stroke="none"/>
<line x1="303" y1="3525" x2="303" y2="3560" stroke-dasharray="5 3"/>
<path d="M298,3594 v50 q0,6 6,6 h36 M304,3594 v34 q0,6 6,6 h30 M310,3594 v16 q0,6 6,6 h24 M316,3594 v2 q0,6 6,6 h18" stroke-width="1.8"/>
<line x1="285" y1="3510" x2="323" y2="3510" marker-start="url(#a)" marker-end="url(#a)"/><line x1="285" y1="3506" x2="285" y2="3534"/><line x1="323" y1="3506" x2="323" y2="3534"/>
<line x1="272" y1="3534" x2="360" y2="3534"/><line x1="272" y1="3582" x2="285" y2="3582"/><line x1="323" y1="3594" x2="360" y2="3594"/>
<line x1="276" y1="3534" x2="276" y2="3582"/><line x1="357" y1="3534" x2="357" y2="3650"/>
<line x1="323" y1="3582" x2="340" y2="3582"/><line x1="340" y1="3578" x2="340" y2="3596"/>
<line x1="328" y1="3650" x2="328" y2="3686"/>
<!-- 51/66 ZKW -->
<line x1="425" y1="3512" x2="573" y2="3512" marker-start="url(#a)" marker-end="url(#a)"/><line x1="425" y1="3508" x2="425" y2="3535"/><line x1="573" y1="3508" x2="573" y2="3535"/>
<polygon points="436,3567 436,3541 425,3538 435,3528 566,3528 574,3538 563,3541 563,3567"/>
<rect x="398" y="3567" width="200" height="15"/><rect x="440" y="3582" width="118" height="12"/>
<line x1="499" y1="3520" x2="499" y2="3600" stroke-dasharray="6 3"/>
<line x1="413" y1="3567" x2="413" y2="3648"/><line x1="585" y1="3567" x2="585" y2="3648"/>
<line x1="440" y1="3594" x2="440" y2="3627"/><line x1="558" y1="3594" x2="558" y2="3627"/>
<line x1="440" y1="3624" x2="558" y2="3624" marker-start="url(#a)" marker-end="url(#a)"/>
<line x1="413" y1="3645" x2="585" y2="3645" marker-start="url(#a)" marker-end="url(#a)"/>
<line x1="398" y1="3582" x2="398" y2="3671"/><line x1="598" y1="3582" x2="598" y2="3671"/><line x1="398" y1="3668" x2="598" y2="3668" marker-start="url(#a)" marker-end="url(#a)"/>
<rect x="665" y="3528" width="43" height="52"/><line x1="672" y1="3528" x2="672" y2="3580"/><line x1="700" y1="3528" x2="700" y2="3580"/><line x1="672" y1="3541" x2="700" y2="3541" stroke-width="2"/>
<rect x="665" y="3580" width="43" height="14"/>
<line x1="686" y1="3520" x2="686" y2="3560" stroke-dasharray="5 3"/>
<path d="M676,3594 v88 q0,4 4,4 h48 M681,3594 v68 q0,6 6,6 h41 M686,3594 v50 q0,6 6,6 h36 M691,3594 v32 q0,6 6,6 h31 M696,3594 v14 q0,6 6,6 h26" stroke-width="1.8"/>
<line x1="665" y1="3510" x2="708" y2="3510" marker-start="url(#a)" marker-end="url(#a)"/><line x1="665" y1="3506" x2="665" y2="3528"/><line x1="708" y1="3506" x2="708" y2="3528"/>
<line x1="650" y1="3528" x2="755" y2="3528"/><line x1="650" y1="3580" x2="665" y2="3580"/><line x1="708" y1="3594" x2="755" y2="3594"/><line x1="725" y1="3686" x2="755" y2="3686"/>
<line x1="654" y1="3528" x2="654" y2="3580"/><line x1="751" y1="3528" x2="751" y2="3686"/>
<line x1="708" y1="3590" x2="728" y2="3590"/>
</g>
<g class="t" font-size="9">
<text x="132" y="3514" class="m">D</text><text x="132" y="3627" class="m">E</text><text x="132" y="3640" class="m">B</text><text x="132" y="3651" class="m">A</text>
<text x="304" y="3508" class="m">7.6</text><text x="334" y="3580">3</text>
<text transform="translate(272,3555) rotate(-90)" class="m">6.4</text><text transform="translate(272,3580) rotate(-90)" class="m">2.4</text><text transform="translate(354,3564) rotate(-90)" class="m">10.9</text><text transform="translate(354,3622) rotate(-90)" class="m">4x2.54</text><text transform="translate(330,3672) rotate(-90)" class="m">φ0.62</text>
<text x="499" y="3509" class="m">D</text><text x="499" y="3621" class="m">E</text><text x="499" y="3642" class="m">B</text><text x="499" y="3665" class="m">A</text>
<text x="686" y="3508" class="m">8.7</text><text x="716" y="3587">3</text>
<text transform="translate(651,3550) rotate(-90)" class="m">6.4</text><text transform="translate(651,3576) rotate(-90)" class="m">2.4</text><text transform="translate(748,3556) rotate(-90)" class="m">10.9</text><text transform="translate(748,3640) rotate(-90)" class="m">6x2.54</text>
</g>
<g class="cap"><text x="203" y="3732">J30JA-9~37ZKW</text><text x="580" y="3732">J30JA-51、66ZKW</text></g>
</svg>
</div></body></html>
